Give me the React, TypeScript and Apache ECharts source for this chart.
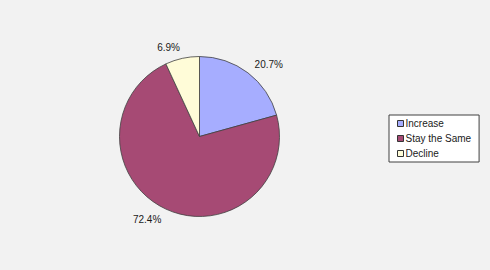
import React, { useEffect, useRef } from "react";
import * as echarts from "echarts";

const categories = ["Increase", "Stay the Same", "Decline"];
const values = [20.7, 72.4, 6.9];
const colors = ["#a6adff", "#a64a74", "#fffcd8"];

export default function App() {
  const ref = useRef<HTMLDivElement>(null);
  useEffect(() => {
    if (!ref.current) return;
    const chart = echarts.init(ref.current, null, { renderer: "svg" });
    chart.setOption({
      animation: false,
      backgroundColor: "#f2f2f2",
      legend: {
        orient: "vertical",
        left: 389,
        top: 115,
        data: categories,
        icon: "rect",
        itemWidth: 6,
        itemHeight: 6,
        itemGap: 2,
        padding: [2, 8, 2, 8],
        backgroundColor: "#ffffff",
        borderColor: "#404040",
        borderWidth: 1,
        borderRadius: 0,
        itemStyle: { borderColor: "#333333", borderWidth: 1 },
        textStyle: {
          fontFamily: "Liberation Sans, Arial, sans-serif",
          fontSize: 10,
          color: "#1a1a1a",
          lineHeight: 13,
          padding: [0, 0, 0, -3],
        },
      },
      series: [
        {
          type: "pie",
          center: [199.5, 136.5],
          radius: 80,
          startAngle: 90,
          clockwise: true,
          avoidLabelOverlap: false,
          data: categories.map((name, i) => ({
            name,
            value: values[i],
            itemStyle: { color: colors[i] },
          })),
          itemStyle: { borderColor: "#404040", borderWidth: 0.8 },
          label: {
            show: true,
            position: "outside",
            distanceToLabelLine: 0,
            formatter: (p: any) => p.value.toFixed(1) + "%",
            fontFamily: "Liberation Sans, Arial, sans-serif",
            fontSize: 10,
            color: "#1a1a1a",
          },
          labelLine: { show: false, length: 11, length2: 0 },
          emphasis: { disabled: true },
        },
      ],
    });
    return () => chart.dispose();
  }, []);
  return (
    <div
      ref={ref}
      style={{ position: "fixed", left: 0, top: 0, width: 490, height: 270 }}
    />
  );
}
